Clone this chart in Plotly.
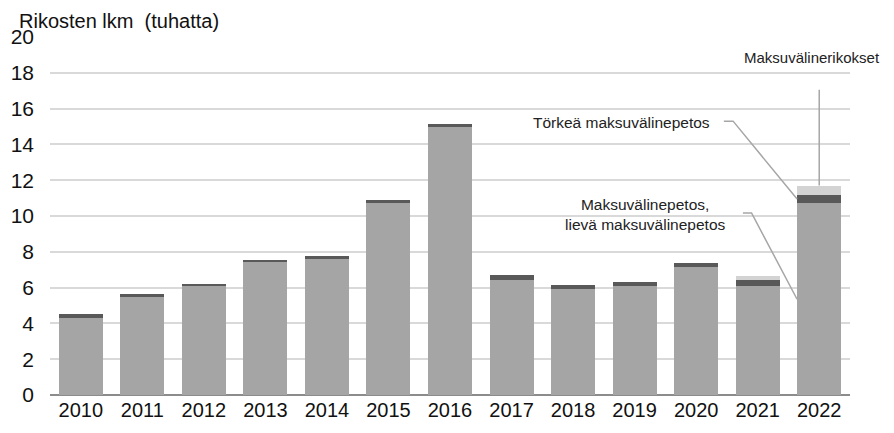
import plotly.graph_objects as go

years = [str(y) for y in range(2010, 2023)]
# thousands of offences
petos = [4.3, 5.5, 6.1, 7.45, 7.65, 10.7, 15.0, 6.45, 5.9, 6.1, 7.15, 6.1, 10.7]
torkea = [0.2, 0.17, 0.12, 0.1, 0.1, 0.2, 0.15, 0.25, 0.25, 0.2, 0.25, 0.3, 0.5]
rikokset = [0, 0, 0, 0, 0, 0, 0, 0, 0, 0, 0, 0.25, 0.5]

FONT = "Liberation Sans, Arial, sans-serif"
LINE = "#a6a6a6"

fig = go.Figure()
for vals, color, name in [
    (petos, "#a5a5a5", "Maksuvälinepetos, lievä maksuvälinepetos"),
    (torkea, "#595959", "Törkeä maksuvälinepetos"),
    (rikokset, "#d3d3d3", "Maksuvälinerikokset"),
]:
    fig.add_trace(go.Bar(x=years, y=vals, name=name, marker=dict(color=color, line=dict(width=0))))

# leader lines, anchored on the last bar
last = len(years) - 1
half = 0.36
left = last - half
top = petos[last] + torkea[last] + rikokset[last]
fig.add_shape(type="line", xref="x", yref="y", x0=last, x1=last, y0=17.05, y1=top,
              line=dict(color=LINE, width=1.5))
fig.add_shape(type="path", xref="x", yref="y",
              path=f"M 10.45 15.3 L 10.6 15.3 L {left} {petos[last] + torkea[last] / 2}",
              line=dict(color=LINE, width=1.5))
fig.add_shape(type="path", xref="x", yref="y",
              path=f"M 10.76 10.17 L 10.9 10.17 L {left} {petos[last] / 2}",
              line=dict(color=LINE, width=1.5))

fig.add_annotation(x=1.04, y=18.88, xref="paper", yref="y", text="Maksuvälinerikokset",
                   xanchor="right", showarrow=False, font=dict(size=15, color="#222"))
fig.add_annotation(x=10.25, y=15.2, xref="x", yref="y", text="Törkeä maksuvälinepetos",
                   xanchor="right", showarrow=False, font=dict(size=15.5, color="#222"))
fig.add_annotation(x=9.18, y=10.1, xref="x", yref="y",
                   text="Maksuvälinepetos,<br>lievä maksuvälinepetos",
                   showarrow=False, font=dict(size=15.5, color="#222"))
fig.add_annotation(x=-0.04, y=1.045, xref="paper", yref="paper", xanchor="left", yanchor="middle",
                   text="Rikosten lkm  (tuhatta)", showarrow=False, borderpad=0,
                   font=dict(size=20, color="#111"))

# the page adds an 8px body margin, so the figure is 16px smaller than the window
fig.update_layout(
    barmode="stack",
    bargap=0.285,
    width=878,
    height=417,
    margin=dict(l=42, r=36, t=29, b=30),
    paper_bgcolor="white",
    plot_bgcolor="white",
    showlegend=False,
    font=dict(family=FONT, color="#111"),
)
fig.update_xaxes(range=[-0.5, len(years) - 0.5], showline=False, ticks="",
                 tickfont=dict(size=20), ticklabelstandoff=1, automargin=False)
fig.update_yaxes(range=[0, 20], dtick=2, showgrid=True, gridcolor="#d9d9d9", gridwidth=1.5,
                 zeroline=True, zerolinecolor="#8c8c8c", zerolinewidth=1.5,
                 tickfont=dict(size=21), ticks="", ticklabelstandoff=15, automargin=False)

fig.write_html("out.html")
